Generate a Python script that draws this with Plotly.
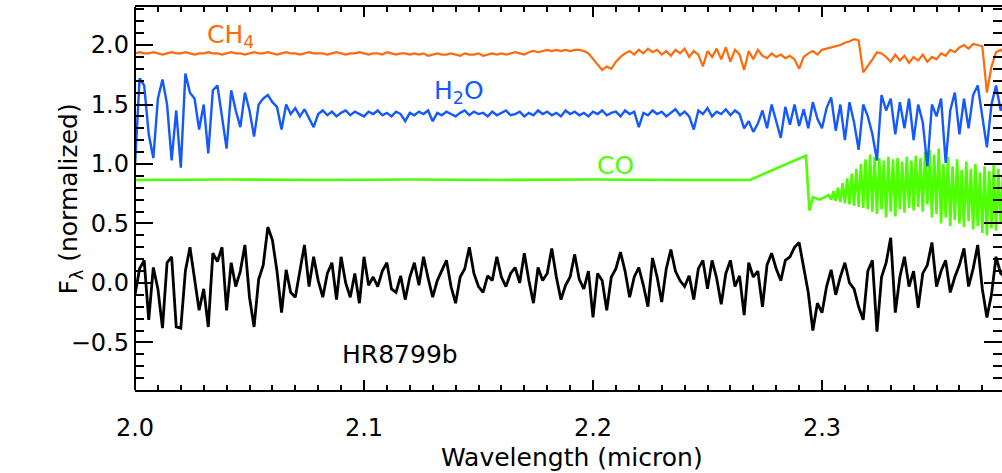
import numpy as np
import plotly.graph_objects as go

# ---------------- data ----------------
# common wavelength sampling (micron) for the three dense spectra
wave_start, wave_end, n_samples = 2.0, 2.38, 191

hr8799b_flux = [
    -0.10, 0.12, 0.19, -0.31, 0.13, -0.05, -0.38, 0.17, 0.22, -0.37,
    -0.38, 0.10, 0.30, 0.05, -0.23, -0.05, -0.37, 0.25, 0.18, 0.30,
    -0.23, 0.17, -0.03, 0.10, 0.32, -0.12, -0.37, 0.03, 0.15, 0.47,
    0.36, 0.10, -0.25, 0.11, -0.08, -0.12, 0.10, 0.32, -0.03, 0.22,
    0.02, -0.12, 0.08, 0.17, -0.14, 0.22, 0.00, -0.12, 0.08, -0.17,
    0.22, -0.02, 0.05, -0.03, 0.10, 0.17, -0.05, -0.08, 0.06, -0.14,
    0.05, 0.17, -0.02, 0.22, 0.04, -0.12, 0.02, 0.10, 0.19, -0.03,
    -0.17, 0.05, 0.12, 0.30, 0.08, -0.03, -0.08, 0.06, 0.02, 0.22,
    0.05, -0.03, 0.08, 0.13, 0.00, 0.25, 0.02, -0.17, 0.13, 0.02,
    0.08, 0.29, 0.05, -0.14, -0.02, 0.05, 0.24, 0.03, -0.05, 0.10,
    -0.29, 0.08, 0.02, -0.23, 0.05, 0.12, 0.26, 0.10, -0.12, 0.05,
    0.13, -0.02, -0.20, 0.21, 0.05, -0.16, 0.12, 0.28, 0.10, 0.02,
    -0.03, 0.06, -0.14, 0.12, 0.19, -0.05, 0.19, 0.04, -0.18, 0.08,
    0.19, -0.03, 0.06, -0.27, 0.17, 0.05, 0.10, -0.20, 0.15, 0.25,
    0.12, 0.02, 0.19, 0.22, 0.30, 0.34, 0.13, -0.08, -0.40, -0.17,
    -0.25, -0.03, 0.11, -0.10, 0.05, 0.17, 0.00, -0.05, -0.20, -0.31,
    0.10, 0.19, -0.41, 0.05, 0.17, 0.38, -0.25, 0.05, 0.22, -0.03,
    0.10, -0.21, 0.08, 0.15, 0.34, -0.03, 0.10, 0.19, -0.08, 0.05,
    0.15, 0.29, -0.03, 0.12, 0.32, -0.05, -0.29, -0.10, 0.22, 0.08,
    0.05,
]

h2o_flux = [
    0.98, 1.72, 1.66, 1.25, 1.05, 1.55, 1.71, 1.50, 1.03, 1.45,
    0.97, 1.76, 1.60, 1.55, 1.29, 1.50, 1.09, 1.62, 1.66, 1.40,
    1.13, 1.62, 1.45, 1.31, 1.60, 1.45, 1.23, 1.50, 1.55, 1.58,
    1.52, 1.48, 1.29, 1.50, 1.42, 1.47, 1.40, 1.46, 1.38, 1.31,
    1.42, 1.45, 1.41, 1.44, 1.40, 1.43, 1.45, 1.41, 1.44, 1.42,
    1.40, 1.44, 1.42, 1.45, 1.41, 1.43, 1.40, 1.44, 1.42, 1.36,
    1.43, 1.41, 1.44, 1.42, 1.45, 1.36, 1.43, 1.41, 1.44, 1.42,
    1.40, 1.43, 1.45, 1.41, 1.44, 1.42, 1.43, 1.40, 1.44, 1.41,
    1.43, 1.45, 1.41, 1.42, 1.44, 1.40, 1.43, 1.41, 1.45, 1.42,
    1.44, 1.41, 1.43, 1.40, 1.45, 1.42, 1.44, 1.41, 1.43, 1.40,
    1.44, 1.42, 1.45, 1.41, 1.43, 1.44, 1.40, 1.45, 1.42, 1.44,
    1.31, 1.43, 1.41, 1.45, 1.42, 1.44, 1.40, 1.43, 1.46, 1.41,
    1.44, 1.40, 1.29, 1.45, 1.42, 1.47, 1.40, 1.44, 1.42, 1.46,
    1.41, 1.45, 1.42, 1.30, 1.36, 1.27, 1.34, 1.45, 1.30, 1.50,
    1.35, 1.22, 1.48, 1.33, 1.50, 1.32, 1.46, 1.30, 1.52, 1.38,
    1.30, 1.47, 1.56, 1.28, 1.50, 1.20, 1.52, 1.35, 1.12, 1.50,
    1.40, 1.25, 1.03, 1.58, 1.45, 1.55, 1.25, 1.52, 1.30, 1.55,
    1.20, 1.50, 1.35, 0.98, 1.50, 1.40, 1.55, 1.01, 1.45, 1.60,
    1.25, 1.55, 1.30, 1.58, 1.66, 1.40, 1.14, 1.50, 1.66, 1.45,
    1.55,
]

ch4_flux = [
    1.93, 1.94, 1.93, 1.93, 1.94, 1.93, 1.92, 1.93, 1.94, 1.93,
    1.93, 1.94, 1.93, 1.92, 1.93, 1.93, 1.94, 1.93, 1.93, 1.92,
    1.93, 1.94, 1.93, 1.93, 1.92, 1.93, 1.94, 1.93, 1.93, 1.94,
    1.93, 1.92, 1.93, 1.94, 1.93, 1.93, 1.92, 1.93, 1.94, 1.93,
    1.93, 1.93, 1.92, 1.93, 1.94, 1.93, 1.92, 1.93, 1.93, 1.94,
    1.93, 1.92, 1.93, 1.93, 1.92, 1.94, 1.93, 1.92, 1.93, 1.93,
    1.92, 1.93, 1.92, 1.93, 1.91, 1.92, 1.93, 1.92, 1.92, 1.93,
    1.92, 1.91, 1.93, 1.92, 1.92, 1.93, 1.91, 1.92, 1.93, 1.92,
    1.93, 1.92, 1.93, 1.94, 1.93, 1.92, 1.94, 1.95, 1.94, 1.95,
    1.96, 1.95, 1.96, 1.95, 1.96, 1.95, 1.96, 1.96, 1.95, 1.93,
    1.88, 1.83, 1.79, 1.82, 1.80, 1.86, 1.90, 1.93, 1.95, 1.92,
    1.96, 1.93, 1.97, 1.94, 1.96, 1.92, 1.95, 1.91, 1.96, 1.93,
    1.97, 1.90, 1.95, 1.92, 1.82, 1.95, 1.90, 1.97, 1.88, 1.98,
    1.86, 1.96, 1.92, 1.79, 1.95, 1.88, 1.96, 1.91, 1.89, 1.93,
    1.90, 1.92, 1.89, 1.91, 1.88, 1.80, 1.90, 1.93, 1.95, 1.92,
    1.96, 1.97, 1.98, 1.99, 2.00, 2.02, 2.03, 2.05, 2.04, 1.77,
    1.82, 1.88, 1.94, 1.93, 1.90, 1.86, 1.92, 1.87, 1.91, 1.85,
    1.90, 1.87, 1.92, 1.86, 1.90, 1.88, 1.93, 1.91, 1.96, 1.94,
    1.98, 2.00, 1.97, 2.01, 2.00, 1.99, 1.60, 1.82, 1.94, 1.96,
    1.92,
]

# CO model: smooth part (explicit samples) + dense band-head region
co_wave_smooth = [2.000, 2.040, 2.080, 2.120, 2.160, 2.200, 2.240, 2.2685,
                  2.2930, 2.2945, 2.2960, 2.2990, 2.3020]
co_flux_smooth = [0.865, 0.870, 0.865, 0.870, 0.866, 0.870, 0.866, 0.866,
                  1.070, 0.610, 0.720, 0.700, 0.730]
co_band_start, co_band_end = 2.303, 2.379
co_flux_band = [
    0.74, 0.70, 0.77, 0.69, 0.80, 0.68, 0.84, 0.67, 0.88, 0.66,
    0.92, 0.65, 0.96, 0.64, 1.00, 0.63, 1.04, 0.62, 1.08, 0.60,
    1.06, 0.58, 1.05, 0.62, 1.03, 0.55, 1.06, 0.60, 1.04, 0.56,
    1.05, 0.62, 1.02, 0.59, 1.06, 0.63, 1.03, 0.61, 1.07, 0.64,
    1.05, 0.60, 1.10, 0.66, 1.12, 0.55, 1.08, 0.58, 1.13, 0.50,
    1.00, 0.55, 1.06, 0.48, 0.98, 0.53, 1.04, 0.50, 0.95, 0.47,
    1.02, 0.52, 0.96, 0.45, 1.00, 0.48, 0.93, 0.42, 0.98, 0.40,
    0.94, 0.46, 1.00, 0.44, 0.96, 0.50, 0.92,
]

x_ticks = [2.0, 2.1, 2.2, 2.3]
x_tick_labels = ["2.0", "2.1", "2.2", "2.3"]
y_ticks = [-0.5, 0.0, 0.5, 1.0, 1.5, 2.0]
y_tick_labels = ["\u22120.5", "0.0", "0.5", "1.0", "1.5", "2.0"]

labels = [
    ("CH<sub>4</sub>", 2.0306, 2.08, "#ff6a0a"),
    ("H<sub>2</sub>O", 2.1297, 1.605, "#1458ff"),
    ("CO", 2.2009, 0.99, "#4dff00"),
    ("HR8799b", 2.0895, -0.605, "#000000"),
]

# ---------------- figure ----------------
wave = np.linspace(wave_start, wave_end, n_samples)
co_wave = list(co_wave_smooth) + list(np.linspace(co_band_start, co_band_end, len(co_flux_band)))
co_flux = list(co_flux_smooth) + list(co_flux_band)

FONT = "DejaVu Sans"
fig = go.Figure()
fig.add_trace(go.Scatter(x=co_wave, y=co_flux, mode="lines",
                         line=dict(color="#4dff00", width=2.6), name="CO"))
fig.add_trace(go.Scatter(x=wave, y=h2o_flux, mode="lines",
                         line=dict(color="#1458ff", width=2.4), name="H2O"))
fig.add_trace(go.Scatter(x=wave, y=ch4_flux, mode="lines",
                         line=dict(color="#ff6a0a", width=2.2), name="CH4"))
fig.add_trace(go.Scatter(x=wave, y=hr8799b_flux, mode="lines",
                         line=dict(color="#000000", width=2.8), name="HR8799b"))

for text, lx, ly, col in labels:
    fig.add_annotation(x=lx, y=ly, xref="x", yref="y", text=text, showarrow=False,
                       xanchor="left", yanchor="middle",
                       font=dict(family=FONT, size=25, color=col))

fig.add_annotation(x=0.504, y=-0.1775, xref="paper", yref="paper",
                   text="Wavelength (micron)", showarrow=False,
                   xanchor="center", yanchor="middle",
                   font=dict(family=FONT, size=25, color="#000"))
fig.add_annotation(x=-0.075, y=0.5, xref="paper", yref="paper",
                   text="F<sub>\u03bb</sub> (normalized)", showarrow=False,
                   textangle=-90, xanchor="center", yanchor="middle",
                   font=dict(family=FONT, size=25, color="#000"))

# left axis line drawn separately so the right (cut-off) side shows only ticks
fig.add_shape(type="line", xref="paper", yref="paper", x0=0, x1=0, y0=0, y1=1,
              line=dict(color="#000", width=2))

fig.update_layout(
    width=1002, height=473,
    margin=dict(l=135, r=0, t=7, b=83),
    paper_bgcolor="white", plot_bgcolor="white",
    showlegend=False,
    font=dict(family=FONT, size=24, color="#000"),
)
fig.update_xaxes(
    range=[2.0, 2.3786], tickvals=x_ticks, ticktext=x_tick_labels,
    ticks="inside", ticklen=10, tickwidth=2, tickcolor="#000",
    minor=dict(dtick=0.01, tick0=2.0, ticks="inside", ticklen=5, tickwidth=2, tickcolor="#000"),
    showline=True, linewidth=2, linecolor="#000", mirror="allticks",
    showgrid=False, zeroline=False, ticklabelstandoff=15,
    tickfont=dict(family=FONT, size=24, color="#000"),
)
fig.update_yaxes(
    range=[-0.9, 2.32], tickvals=y_ticks, ticktext=y_tick_labels,
    ticks="inside", ticklen=18, tickwidth=2, tickcolor="#000",
    minor=dict(dtick=0.1, tick0=0.0, ticks="inside", ticklen=9, tickwidth=2, tickcolor="#000"),
    showline=False, mirror="allticks",
    showgrid=False, zeroline=False, ticklabelstandoff=5,
    tickfont=dict(family=FONT, size=24, color="#000"),
)

fig.write_html("out.html")
